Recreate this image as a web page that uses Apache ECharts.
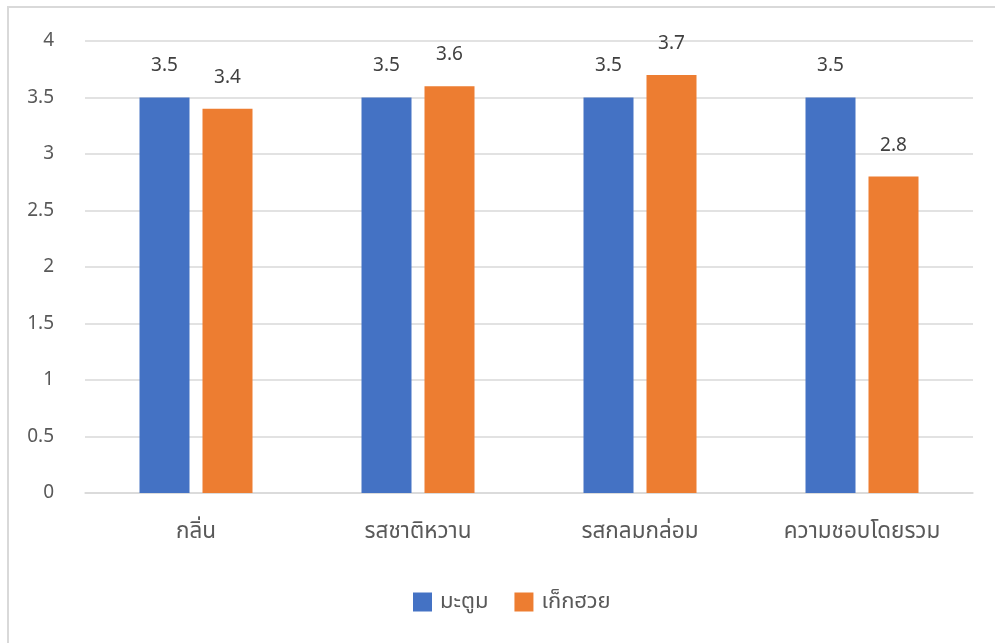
<!DOCTYPE html>
<html>
<head>
<meta charset="utf-8">
<script src="https://cdn.jsdelivr.net/npm/echarts@6/dist/echarts.min.js"></script>
<style>
  html, body { margin: 0; padding: 0; background: #fff; }
  #frame { position: absolute; left: 7px; top: 6px; width: 1000px; height: 650px; border: 2px solid #d9d9d9; box-sizing: border-box; }
  #chart { position: absolute; left: 0; top: 0; width: 995px; height: 643px; }
</style>
</head>
<body>
<div id="frame"></div>
<div id="chart"></div>
<script>
// Taste scores for two herbal drinks
const categories = ['กลิ่น', 'รสชาติหวาน', 'รสกลมกล่อม', 'ความชอบโดยรวม'];
const seriesNames = ['มะตูม', 'เก็กฮวย'];
const bael = [3.5, 3.5, 3.5, 3.5];
const chrysanthemum = [3.4, 3.6, 3.7, 2.8];
const colors = ['#4472C4', '#ED7D31'];

const font = '"Noto Sans", "Noto Sans Thai", sans-serif';
const chart = echarts.init(document.getElementById('chart'), null, { renderer: 'canvas' });

const labelStyle = {
  show: true,
  position: 'top',
  distance: 22,
  color: '#404040',
  fontSize: 19,
  fontFamily: font
};

chart.setOption({
  animation: false,
  color: colors,
  textStyle: { fontFamily: font },
  grid: { left: 85, right: 22, top: 41, bottom: 150 },
  legend: {
    bottom: 25,
    left: 408,
    itemWidth: 19,
    itemHeight: 19,
    itemGap: 26,
    icon: 'rect',
    textStyle: { color: '#595959', fontSize: 22, fontFamily: font, padding: [0, 0, 0, 3] },
    data: seriesNames
  },
  xAxis: {
    type: 'category',
    data: categories,
    axisLine: { lineStyle: { color: '#d9d9d9', width: 1.5 } },
    axisTick: { show: false },
    axisLabel: { color: '#595959', fontSize: 22.5, fontFamily: font, margin: 27 }
  },
  yAxis: {
    type: 'value',
    min: 0,
    max: 4,
    interval: 0.5,
    axisLine: { show: false },
    axisTick: { show: false },
    splitLine: { lineStyle: { color: '#d9d9d9', width: 1.5 } },
    axisLabel: { color: '#595959', fontSize: 19, fontFamily: font, margin: 31 }
  },
  series: [
    { name: seriesNames[0], type: 'bar', data: bael, barWidth: 50, barGap: '26%', label: labelStyle },
    { name: seriesNames[1], type: 'bar', data: chrysanthemum, barWidth: 50, barGap: '26%', label: labelStyle }
  ]
});
</script>
</body>
</html>
